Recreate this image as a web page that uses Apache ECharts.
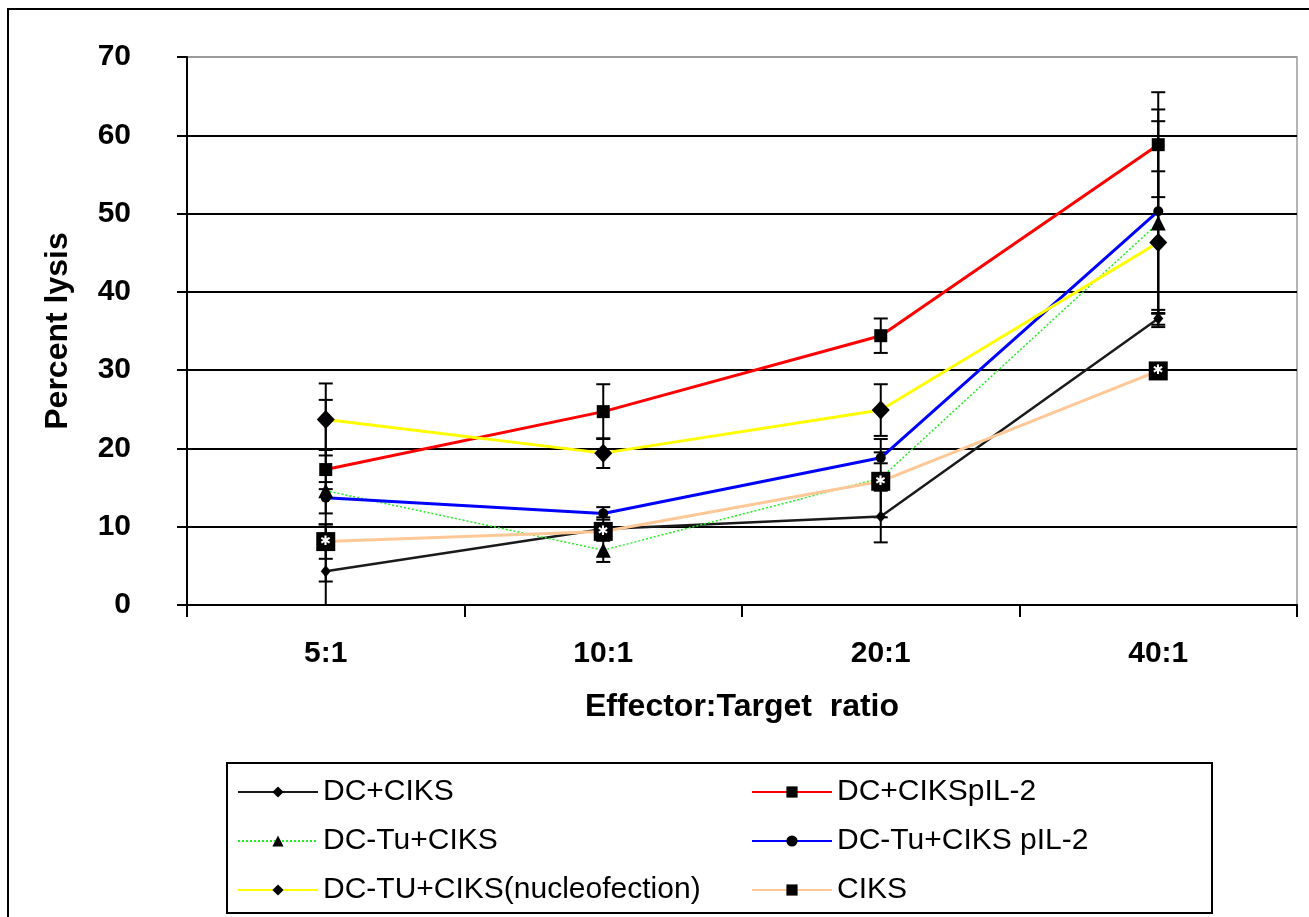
<!DOCTYPE html>
<html>
<head>
<meta charset="utf-8">
<script src="https://cdn.jsdelivr.net/npm/echarts@6/dist/echarts.min.js"></script>
<style>
html,body{margin:0;padding:0;background:#fff;}
#chart{width:1309px;height:917px;}
</style>
</head>
<body>
<div id="chart"></div>
<script>
// ---- data ----
const categories = ['5:1', '10:1', '20:1', '40:1'];
const yTicks = [0, 10, 20, 30, 40, 50, 60, 70];

const seriesNames = ['DC+CIKS', 'DC+CIKSpIL-2', 'DC-Tu+CIKS', 'DC-Tu+CIKS pIL-2', 'DC-TU+CIKS(nucleofection)', 'CIKS'];

const dcCiks        = [4.3, 9.7, 11.3, 36.6];
const dcCiksPil2    = [17.3, 24.7, 34.4, 58.8];
const dcTuCiks      = [14.6, 7.0, 16.2, 48.8];
const dcTuCiksPil2  = [13.7, 11.7, 18.8, 50.3];
const dcTuNucleo    = [23.7, 19.4, 24.9, 46.3];
const ciks          = [8.1, 9.4, 15.8, 29.9];

const dcCiksErr       = [6.0, 1.5, 3.3, 1.1];
const dcCiksPil2Err   = [2.5, 3.5, 2.2, 6.7];
const dcTuCiksErr     = [11.6, 1.5, 5.0, 13.0];
const dcTuCiksPil2Err = [2.0, 0.8, 0.7, 13.0];
const dcTuNucleoErr   = [4.6, 1.9, 3.3, 9.1];
const ciksErr         = [2.2, 0.8, 1.0, 0.8];

// ---- styles ----
const FONT = '"Liberation Sans", Arial, sans-serif';
const values = [dcCiks, dcCiksPil2, dcTuCiks, dcTuCiksPil2, dcTuNucleo, ciks];
const errors = [dcCiksErr, dcCiksPil2Err, dcTuCiksErr, dcTuCiksPil2Err, dcTuNucleoErr, ciksErr];
const styles = [
  {color: '#1a1a1a', width: 2.5, type: 'solid', symbol: 'diamond', size: [10, 12]},
  {color: '#ff0000', width: 3, type: 'solid', symbol: 'rect', size: 13},
  {color: '#22ee22', width: 1.5, type: [2, 2], symbol: 'triangle', size: 15},
  {color: '#0000ff', width: 3, type: 'solid', symbol: 'circle', size: 10},
  {color: '#ffff00', width: 3, type: 'solid', symbol: 'diamond', size: [18, 19]},
  {color: '#ffc896', width: 3, type: 'solid', symbol: 'rect', size: 19}
];

function errRender(params, api) {
  const x = api.value(0), v = api.value(1), e = api.value(2);
  const top = api.coord([x, v + e]);
  const low = v - e;
  const bot = api.coord([x, Math.max(low, 0)]);
  const hw = 7;
  const st = {stroke: '#000', lineWidth: 2};
  const ch = [
    {type: 'line', shape: {x1: top[0], y1: top[1], x2: bot[0], y2: bot[1]}, style: st},
    {type: 'line', shape: {x1: top[0] - hw, y1: top[1], x2: top[0] + hw, y2: top[1]}, style: st}
  ];
  if (low >= 0) ch.push({type: 'line', shape: {x1: bot[0] - hw, y1: bot[1], x2: bot[0] + hw, y2: bot[1]}, style: st});
  return {type: 'group', children: ch};
}

const series = [];
seriesNames.forEach((name, i) => {
  series.push({
    type: 'custom',
    name: name + ' err',
    renderItem: errRender,
    data: values[i].map((v, k) => [k, v, errors[i][k]]),
    z: 2,
    silent: true,
    animation: false
  });
});
seriesNames.forEach((name, i) => {
  const s = styles[i];
  const ser = {
    type: 'line',
    name: name,
    data: values[i],
    symbol: s.symbol,
    symbolSize: s.size,
    showAllSymbol: true,
    lineStyle: {color: s.color, width: s.width, type: s.type},
    itemStyle: {color: '#000', borderWidth: 0},
    color: s.color,
    z: 3,
    animation: false
  };
  if (name === 'CIKS') {
    ser.label = {show: true, position: 'inside', formatter: '✱', color: '#fff', fontSize: 13, fontFamily: 'DejaVu Sans'};
  }
  series.push(ser);
});

const splitColors = yTicks.map(t => t === 70 ? '#9a9a9a' : '#000');

const legendCommon = {
  orient: 'vertical',
  itemWidth: 80,
  itemHeight: 14,
  itemGap: 19,
  textStyle: {fontFamily: FONT, fontSize: 30, color: '#000', lineHeight: 30},
  selectedMode: false
};

const option = {
  backgroundColor: '#fff',
  animation: false,
  grid: {left: 187, top: 57, right: 12, bottom: 312, show: true, borderColor: '#9a9a9a', borderWidth: 1.5},
  xAxis: {
    type: 'category',
    data: categories,
    boundaryGap: true,
    axisLine: {lineStyle: {color: '#000', width: 2}},
    axisTick: {show: true, length: 12, lineStyle: {color: '#000', width: 2}},
    axisLabel: {margin: 34, fontFamily: FONT, fontSize: 30, fontWeight: 'bold', color: '#000'},
    name: 'Effector:Target  ratio',
    nameLocation: 'middle',
    nameGap: 86,
    nameTextStyle: {fontFamily: FONT, fontSize: 32, fontWeight: 'bold', color: '#000'}
  },
  yAxis: {
    type: 'value',
    min: 0, max: 70, interval: 10,
    axisLine: {show: true, lineStyle: {color: '#000', width: 2}},
    axisTick: {show: true, length: 10, lineStyle: {color: '#000', width: 2}},
    axisLabel: {margin: 56, fontFamily: FONT, fontSize: 30, fontWeight: 'bold', color: '#000'},
    splitLine: {show: true, lineStyle: {color: splitColors, width: 2}},
    name: 'Percent lysis',
    nameLocation: 'middle',
    nameGap: 113,
    nameTextStyle: {fontFamily: FONT, fontSize: 32, fontWeight: 'bold', color: '#000'}
  },
  legend: [
    Object.assign({left: 232, top: 772, data: [seriesNames[0], seriesNames[2], seriesNames[4]]}, legendCommon),
    Object.assign({left: 746, top: 772, data: [seriesNames[1], seriesNames[3], seriesNames[5]]}, legendCommon)
  ],
  graphic: [
    {type: 'rect', shape: {x: 8, y: 9, width: 1330, height: 940}, style: {fill: 'none', stroke: '#000', lineWidth: 2}, z: -1, silent: true},
    {type: 'rect', shape: {x: 227, y: 763, width: 985, height: 150}, style: {fill: 'none', stroke: '#000', lineWidth: 2}, silent: true}
  ],
  series: series
};

const chart = echarts.init(document.getElementById('chart'), null, {renderer: 'canvas'});
chart.setOption(option);
</script>
</body>
</html>
